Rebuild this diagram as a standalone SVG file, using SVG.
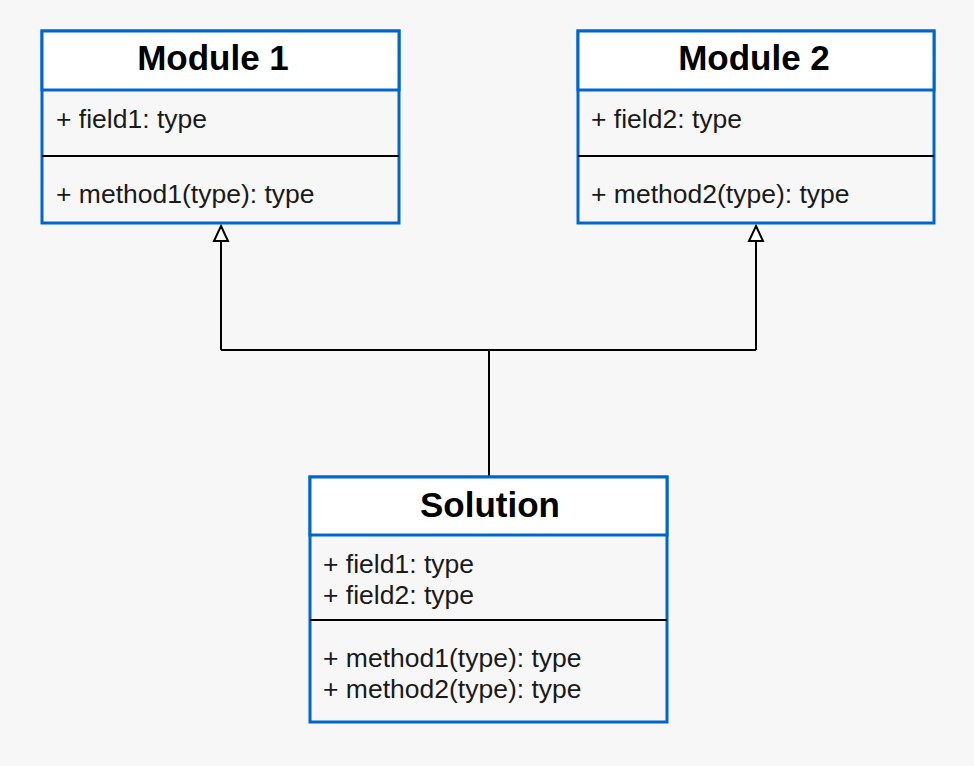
<svg xmlns="http://www.w3.org/2000/svg" width="974" height="766" viewBox="0 0 974 766">
<defs>
<style>
.box{fill:#f7f7f7;stroke:#0066cc;stroke-width:3}
.hdr{fill:#ffffff;stroke:#0066cc;stroke-width:3}
.div{stroke:#000;stroke-width:2}
.title{font-family:"Liberation Sans",Arial,sans-serif;font-weight:bold;font-size:35px;fill:#000;text-anchor:middle}
.txt{font-family:"Liberation Sans",Arial,sans-serif;font-size:26.5px;fill:#1a1a1a}
.conn{fill:none;stroke:#000;stroke-width:2}
.arrow{fill:#fff;stroke:#000;stroke-width:2}
</style>
</defs>
<rect width="974" height="766" fill="#f7f7f7"/>
<g id="connectors">
<path class="conn" d="M489 477 V350"/>
<path class="conn" d="M221 350 H756"/>
<path class="conn" d="M221 350 V241"/>
<path class="conn" d="M756 350 V241"/>
<path class="arrow" d="M221 226 L228 241 L214 241 Z"/>
<path class="arrow" d="M756 226 L763 241 L749 241 Z"/>
</g>
<g id="module1">
<rect class="box" x="42" y="31" width="357" height="192"/>
<rect class="hdr" x="42" y="31" width="357" height="59"/>
<line class="div" x1="42" y1="156" x2="399" y2="156"/>
<text class="title" x="213" y="70">Module 1</text>
<text class="txt" x="56" y="128">+ field1: type</text>
<text class="txt" x="56" y="203">+ method1(type): type</text>
</g>
<g id="module2">
<rect class="box" x="578" y="31" width="356" height="192"/>
<rect class="hdr" x="578" y="31" width="356" height="59"/>
<line class="div" x1="578" y1="156" x2="934" y2="156"/>
<text class="title" x="754" y="70">Module 2</text>
<text class="txt" x="591" y="128">+ field2: type</text>
<text class="txt" x="591" y="203">+ method2(type): type</text>
</g>
<g id="solution">
<rect class="box" x="310" y="477" width="357" height="245"/>
<rect class="hdr" x="310" y="477" width="357" height="58"/>
<line class="div" x1="310" y1="620" x2="667" y2="620"/>
<text class="title" x="490" y="517">Solution</text>
<text class="txt" x="323" y="573">+ field1: type</text>
<text class="txt" x="323" y="604">+ field2: type</text>
<text class="txt" x="323" y="667">+ method1(type): type</text>
<text class="txt" x="323" y="698">+ method2(type): type</text>
</g>
</svg>
